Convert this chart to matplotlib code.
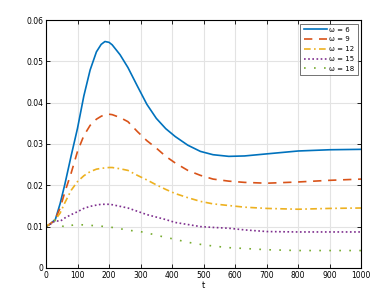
import numpy as np
import matplotlib
matplotlib.use("Agg")
import matplotlib.pyplot as plt

# values
t = [0, 15, 30, 45, 60, 80, 100, 120, 140, 160, 175, 187, 200, 210, 235, 260, 290, 320, 350,
     380, 410, 450, 490, 530, 580, 630, 700, 800, 900, 1000]
w6 = [0.0100, 0.0107, 0.0118, 0.0156, 0.0203, 0.0272, 0.0338, 0.0416, 0.0479, 0.0523,
      0.0541, 0.0548, 0.0546, 0.0540, 0.0516, 0.0485, 0.0440, 0.0396, 0.0362, 0.0337,
      0.0318, 0.0297, 0.0282, 0.0274, 0.0270, 0.0271, 0.0276, 0.0283, 0.0286, 0.0287]
w9 = [0.0100, 0.0107, 0.0119, 0.0145, 0.0184, 0.0230, 0.0282, 0.0320, 0.0345, 0.0360,
      0.0367, 0.0371, 0.0372, 0.0371, 0.0364, 0.0354, 0.0330, 0.0308, 0.0290, 0.0270,
      0.0254, 0.0236, 0.0224, 0.0215, 0.0210, 0.0207, 0.0205, 0.0208, 0.0212, 0.0215]
w12 = [0.0100, 0.0108, 0.0117, 0.0133, 0.0158, 0.0188, 0.0209, 0.0223, 0.0233, 0.0239,
       0.0241, 0.0242, 0.0243, 0.0243, 0.0240, 0.0236, 0.0224, 0.0213, 0.0201, 0.0190,
       0.0180, 0.0170, 0.0161, 0.0155, 0.0151, 0.0147, 0.0144, 0.0142, 0.0144, 0.0145]
w15 = [0.0100, 0.0107, 0.0114, 0.0113, 0.0121, 0.0129, 0.0136, 0.0144, 0.0149, 0.0152,
       0.0154, 0.0154, 0.0154, 0.0153, 0.0149, 0.0145, 0.0137, 0.0129, 0.0123, 0.0117,
       0.0110, 0.0105, 0.0100, 0.0098, 0.0096, 0.0092, 0.0088, 0.0087, 0.0087, 0.0087]
w18 = [0.0100, 0.0107, 0.0115, 0.0105, 0.0098, 0.0103, 0.0105, 0.0104, 0.0103, 0.0102,
       0.0101, 0.0100, 0.0099, 0.0098, 0.0095, 0.0091, 0.0089, 0.0085, 0.0079, 0.0074,
       0.0069, 0.0062, 0.0057, 0.0053, 0.0049, 0.0047, 0.0044, 0.0042, 0.0042, 0.0042]
labels = ["\u03c9 = 6", "\u03c9 = 9", "\u03c9 = 12", "\u03c9 = 15", "\u03c9 = 18"]
x_ticks = [0, 100, 200, 300, 400, 500, 600, 700, 800, 900, 1000]
y_ticks = [0, 0.01, 0.02, 0.03, 0.04, 0.05, 0.06]
y_tick_labels = ["0", "0.01", "0.02", "0.03", "0.04", "0.05", "0.06"]

colors = ["#0072BD", "#D95319", "#EDB120", "#7E2F8E", "#77AC30"]
styles = ["-", (0, (5, 4)), (0, (4, 2, 1, 2)), (0, (1, 1.5)), (0, (1, 5))]

fig = plt.figure(figsize=(3.77, 2.99), dpi=100)
ax = fig.add_axes([0.122, 0.104, 0.836, 0.829])

for ys, c, ls, lab in zip([w6, w9, w12, w15, w18], colors, styles, labels):
    ax.plot(t, ys, color=c, linestyle=ls, linewidth=1.2, label=lab)

ax.set_xlim(0, 1000)
ax.set_ylim(0, 0.06)
ax.set_xticks(x_ticks)
ax.set_yticks(y_ticks)
ax.set_yticklabels(y_tick_labels)
ax.grid(True, color="#e3e3e3", linewidth=0.8)
ax.set_axisbelow(True)
ax.tick_params(direction="in", length=3, width=0.6, labelsize=5.5, top=True, right=True, pad=2)
for s in ax.spines.values():
    s.set_linewidth(0.8)
ax.set_xlabel("t", fontsize=6, labelpad=1)

leg = ax.legend(loc="upper right", fontsize=5, handlelength=3.3, frameon=True, fancybox=False,
                edgecolor="#333333", borderpad=0.45, labelspacing=0.55, handletextpad=0.4,
                borderaxespad=0.5)
leg.get_frame().set_linewidth(0.6)

fig.savefig("out.png", dpi=100)
